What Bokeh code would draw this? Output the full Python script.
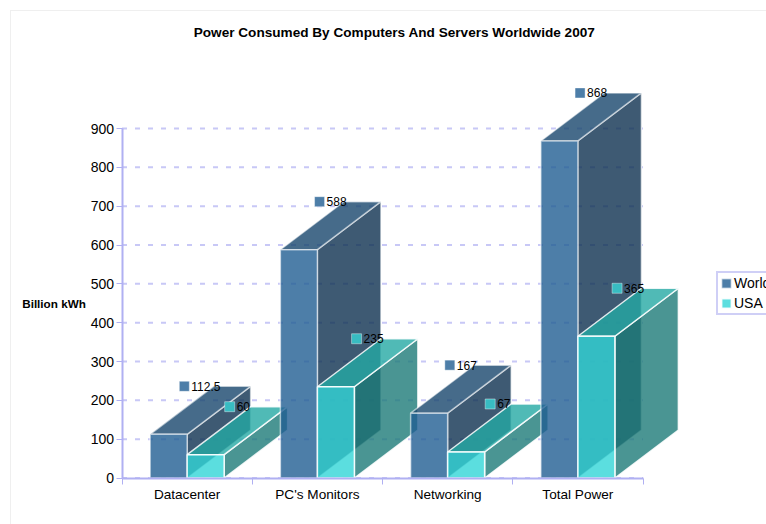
from bokeh.plotting import figure
from bokeh.embed import file_html
from bokeh.resources import INLINE
from bokeh.models import FixedTicker, Label, Legend, LegendItem
from bokeh.core.properties import value

categories = ["Datacenter", "PC's Monitors", "Networking", "Total Power"]
world = [112.5, 588, 167, 868]
usa = [60, 235, 67, 365]
world_labels = ["112.5", "588", "167", "868"]
usa_labels = ["60", "235", "67", "365"]
y_ticks = [0, 100, 200, 300, 400, 500, 600, 700, 800, 900]
title_text = "Power Consumed By Computers And Servers Worldwide 2007"
y_title = "Billion kWh"

# layout constants: the plot frame fills the canvas, the axes sit inside it
W, H = 766, 524
LEFT, BOTTOM = 121.5, 46.5
CAT_PX = 130.25
VAL_PX = 349.5 / 900
FONT = "Liberation Sans"
AXIS_COLOR = "#b0b0f2"
BAR_W = 37 / CAT_PX
DX = 63.5 / CAT_PX
DY = 48 / VAL_PX
PX = 1 / CAT_PX

p = figure(width=W, height=H, output_backend="svg", toolbar_location=None,
           x_range=(-LEFT / CAT_PX, (W - LEFT) / CAT_PX), y_range=(-BOTTOM / VAL_PX, (H - BOTTOM) / VAL_PX),
           min_border_left=0, min_border_bottom=0, min_border_top=0, min_border_right=0,
           x_axis_type="linear", background_fill_color=None, border_fill_color=None)
p.outline_line_color = None
p.grid.visible = False
# faint sheet edge, top and left only
p.styles = {
    "background": "linear-gradient(#efefef,#efefef) 10px 10px / 756px 1px no-repeat,"
                  "linear-gradient(#efefef,#efefef) 10px 10px / 1px 514px no-repeat",
}

# dashed grid
n = len(categories)
p.segment(x0=[0] * len(y_ticks), x1=[n] * len(y_ticks), y0=y_ticks, y1=y_ticks,
          line_color="#c8c8f6", line_width=2, line_dash="5 8")

# axes
ya = p.yaxis[0]
ya.fixed_location = 0
ya.ticker = FixedTicker(ticks=y_ticks)
ya.bounds = (0, 900)
ya.axis_line_color = AXIS_COLOR
ya.axis_line_width = 2
ya.major_tick_line_color = AXIS_COLOR
ya.major_tick_in = 0
ya.major_tick_out = 6
ya.minor_tick_line_color = None
ya.major_label_text_font = FONT
ya.major_label_text_font_size = "14px"
ya.major_label_text_color = "black"
ya.major_label_standoff = 2

xa = p.xaxis[0]
xa.fixed_location = 0
centers = [i + 0.5 for i in range(n)]
xa.ticker = FixedTicker(ticks=centers, minor_ticks=list(range(n + 1)))
xa.major_label_overrides = {c: name for c, name in zip(centers, categories)}
xa.bounds = (0, n)
xa.axis_line_color = AXIS_COLOR
xa.axis_line_width = 2
xa.major_tick_line_color = None
xa.minor_tick_line_color = AXIS_COLOR
xa.minor_tick_in = 0
xa.minor_tick_out = 6
xa.major_label_text_font = FONT
xa.major_label_text_font_size = "13.6px"
xa.major_label_text_color = "black"
xa.major_label_standoff = 3

# colours are base colours shown at alpha 0.8
styles = {
    "World": dict(front="#205e92", side="#0e3150", top="#18466d", edge="#ffffff", edge_alpha=0.55),
    "USA": dict(front="#32d6d7", side="#1d7a78", top="#24a9a4", edge="#ffffff", edge_alpha=0.85),
}
legend_rs = {}
for i in range(n):
    for name, vals, off in (("World", world, -BAR_W), ("USA", usa, 0.0)):
        st = styles[name]
        x0 = centers[i] + off
        x1 = x0 + BAR_W
        v = vals[i]
        kw = dict(line_color=st["edge"], line_alpha=st["edge_alpha"], line_width=1.5, fill_alpha=0.8)
        p.patch([x1, x1 + DX, x1 + DX, x1], [0, DY, v + DY, v], fill_color=st["side"], **kw)
        p.patch([x0, x1, x1 + DX, x0 + DX], [v, v, v + DY, v + DY], fill_color=st["top"], **kw)
        r = p.patch([x0, x1, x1, x0], [0, 0, v, v], fill_color=st["front"], **kw)
        legend_rs.setdefault(name, r)

# data labels: marker + text, centred half a depth right of the bar centre
CHAR = 6.7
for name, vals, labels, off, mcolor in (("World", world, world_labels, -BAR_W / 2, "#4d7ea8"),
                                        ("USA", usa, usa_labels, BAR_W / 2, "#38bcc2")):
    for i in range(n):
        w = 12 + sum(3.3 if ch == "." else CHAR for ch in labels[i])
        cx = centers[i] + off + DX / 2
        mx = cx + (-w / 2 + 5) * PX
        ty = vals[i] + DY
        p.scatter([mx], [ty], marker="square", size=10, fill_color=mcolor,
                  line_color="#ffffff", line_alpha=0.4, line_width=1)
        p.text([mx + 7 * PX], [ty], text=[labels[i]], text_font=value(FONT), text_font_size="12px",
               text_color="black", text_baseline="middle", text_align="left")

# label positions are relative to the plot frame
p.add_layout(Label(x=394, y=492, x_units="screen", y_units="screen", text=title_text,
                   text_font=FONT, text_font_size="13.6px", text_font_style="bold",
                   text_color="black", text_align="center", text_baseline="middle"))
p.add_layout(Label(x=53.5, y=221, x_units="screen", y_units="screen", text=y_title,
                   text_font=FONT, text_font_size="11.7px", text_font_style="bold",
                   text_color="black", text_align="center", text_baseline="middle"))

legend = Legend(items=[LegendItem(label=k, renderers=[legend_rs[k]]) for k in ("World", "USA")],
                location=(716, 209), orientation="vertical",
                border_line_color="#a0a0ee", border_line_width=2, background_fill_color="white", background_fill_alpha=1,
                label_text_font=FONT, label_text_font_size="14px", label_text_color="black",
                glyph_width=12, glyph_height=12, label_standoff=2, padding=2, margin=0, spacing=4,
                label_height=11, label_width=40)
p.add_layout(legend)

open("out.html", "w").write(file_html(p, INLINE))
